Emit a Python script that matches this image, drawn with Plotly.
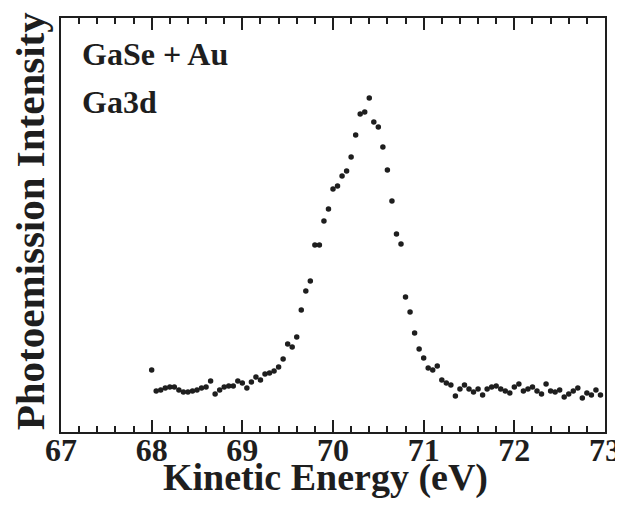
import plotly.graph_objects as go

# Kinetic energy grid (eV) and photoemission intensity (arb. units)
energy_start = 68.0
energy_step = 0.05
intensity = [
    62, 41, 42, 44, 45, 45, 42, 40, 40, 41,
    42, 44, 45, 51, 38, 42, 45, 46, 46, 51,
    49, 44, 50, 55, 52, 58, 59, 61, 65, 73,
    88, 85, 95, 122, 141, 151, 187, 187, 211, 223,
    243, 246, 256, 261, 275, 297, 318, 320, 334, 310,
    305, 285, 262, 231, 198, 188, 135, 120, 99, 83,
    74, 64, 62, 66, 52, 49, 47, 36, 43, 47,
    43, 40, 43, 37, 43, 45, 46, 43, 41, 39,
    45, 48, 41, 43, 45, 41, 38, 48, 41, 40,
    42, 35, 38, 41, 44, 34, 39, 37, 42, 37,
]
energy = [round(energy_start + energy_step * i, 2) for i in range(len(intensity))]

x_ticks = [67, 68, 69, 70, 71, 72, 73]
x_tick_labels = ["67", "68", "69", "70", "71", "72", "73"]
label_sample = "GaSe + Au"
label_core = "Ga3d"
x_title = "Kinetic Energy (eV)"
y_title = "Photoemission Intensity"

serif = "Liberation Serif, Times New Roman, serif"
ink = "#1e1e1e"

fig = go.Figure()
fig.add_trace(go.Scatter(
    x=energy, y=intensity, mode="markers",
    marker=dict(size=5.5, color=ink),
    showlegend=False, hoverinfo="skip", cliponaxis=False,
))

# the page body adds an 8px margin, so the figure is sized to fit the window without scrolling
fig.update_layout(
    template="none",
    width=615, height=490,
    margin=dict(l=53, r=18, t=10, b=66, autoexpand=False),
    paper_bgcolor="white", plot_bgcolor="white",
    font=dict(family=serif, color=ink),
    xaxis=dict(
        range=[67, 73], tickmode="array", tickvals=x_ticks, ticktext=x_tick_labels,
        ticks="inside", ticklen=12, tickwidth=2, tickcolor=ink,
        minor=dict(dtick=0.2, ticks="inside", ticklen=6, tickwidth=1.5, tickcolor=ink, showgrid=False),
        showline=True, linewidth=2, linecolor=ink, mirror="ticks",
        showgrid=False, zeroline=False, automargin=False,
        tickfont=dict(family=serif, size=32, color=ink, weight="bold"),
        ticklabelstandoff=-11, ticklabeloverflow="allow",
    ),
    yaxis=dict(
        range=[0, 414], showticklabels=False, ticks="",
        showline=True, linewidth=2, linecolor=ink, mirror=True,
        showgrid=False, zeroline=False, automargin=False,
    ),
    annotations=[
        dict(text=label_sample, xref="paper", yref="paper", x=0.035, y=0.913,
             xanchor="left", yanchor="middle", showarrow=False,
             font=dict(family=serif, size=32, color=ink, weight="bold")),
        dict(text=label_core, xref="paper", yref="paper", x=0.035, y=0.798,
             xanchor="left", yanchor="middle", showarrow=False,
             font=dict(family=serif, size=32, color=ink, weight="bold")),
        dict(text=x_title, xref="paper", yref="paper", x=0.486, y=-0.109,
             xanchor="center", yanchor="middle", showarrow=False,
             font=dict(family=serif, size=38, color=ink, weight="bold")),
        dict(text=y_title, xref="paper", yref="paper", x=-0.058, y=0.51,
             xanchor="center", yanchor="middle", showarrow=False, textangle=-90,
             font=dict(family=serif, size=41, color=ink, weight="bold")),
    ],
)

fig.write_html("out.html")
